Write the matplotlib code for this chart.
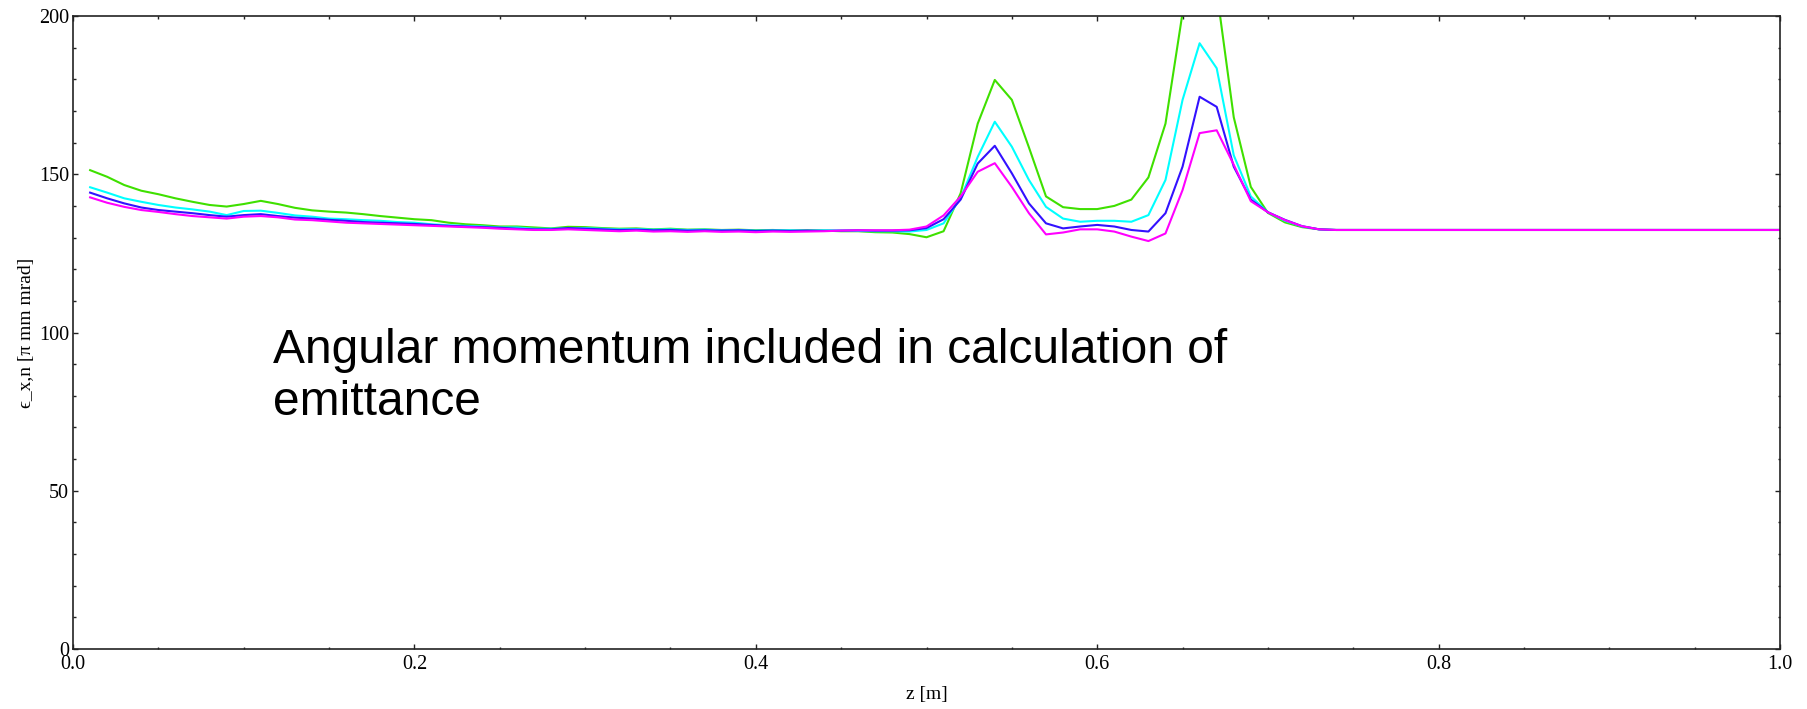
import matplotlib
matplotlib.use("Agg")
import matplotlib.pyplot as plt
from matplotlib.ticker import MultipleLocator

plt.rcParams["font.family"] = ["Liberation Serif", "DejaVu Serif"]

# longitudinal position [m]
z = [
    0.01, 0.02, 0.03, 0.04, 0.05, 0.06, 0.07, 0.08, 0.09, 0.10,
    0.11, 0.12, 0.13, 0.14, 0.15, 0.16, 0.17, 0.18, 0.19, 0.20,
    0.21, 0.22, 0.23, 0.24, 0.25, 0.26, 0.27, 0.28, 0.29, 0.30,
    0.31, 0.32, 0.33, 0.34, 0.35, 0.36, 0.37, 0.38, 0.39, 0.40,
    0.41, 0.42, 0.43, 0.44, 0.45, 0.46, 0.47, 0.48, 0.49, 0.50,
    0.51, 0.52, 0.53, 0.54, 0.55, 0.56, 0.57, 0.58, 0.59, 0.60,
    0.61, 0.62, 0.63, 0.64, 0.65, 0.66, 0.67, 0.68, 0.69, 0.70,
    0.71, 0.72, 0.73, 0.74, 0.80, 0.90, 1.00,
]

# normalized emittance for the four runs [pi mm mrad]
emit_green = [
    151.3, 149.2, 146.6, 144.8, 143.7, 142.4, 141.3, 140.3, 139.8, 140.6,
    141.6, 140.6, 139.4, 138.6, 138.2, 137.9, 137.4, 136.8, 136.3, 135.8,
    135.5, 134.7, 134.2, 133.9, 133.5, 133.5, 133.2, 132.9, 133.4, 133.3,
    133.0, 132.8, 132.9, 132.6, 132.8, 132.5, 132.6, 132.4, 132.5, 132.3,
    132.4, 132.2, 132.3, 132.2, 132.0, 132.0, 131.7, 131.6, 131.1, 130.1,
    132.0, 144.0, 166.0, 179.8, 173.5, 158.5, 143.0, 139.6, 139.0, 139.0,
    140.0, 142.0, 149.0, 166.0, 201.0, 212.0, 208.0, 168.0, 146.0, 137.8,
    134.8, 133.3, 132.6, 132.4, 132.4, 132.4, 132.4,
]
emit_cyan = [
    145.9, 144.2, 142.4, 141.3, 140.3, 139.5, 138.9, 138.2, 137.1, 138.4,
    138.5, 137.8, 137.0, 136.6, 136.0, 135.8, 135.5, 135.3, 134.9, 134.7,
    134.2, 133.9, 133.7, 133.5, 133.2, 133.2, 132.8, 132.8, 132.9, 133.0,
    132.8, 132.6, 132.7, 132.5, 132.6, 132.4, 132.5, 132.3, 132.4, 132.2,
    132.3, 132.3, 132.2, 132.3, 132.2, 132.1, 132.0, 132.0, 131.9, 132.4,
    134.5, 142.5, 155.5, 166.6, 158.7, 148.2, 139.7, 136.0, 135.0, 135.3,
    135.3, 135.0, 137.1, 148.2, 173.5, 191.4, 183.5, 156.0, 143.0, 138.0,
    135.3, 133.5, 132.6, 132.4, 132.4, 132.4, 132.4,
]
emit_blue = [
    144.2, 142.4, 140.8, 139.5, 138.7, 138.2, 137.7, 137.1, 136.6, 137.1,
    137.4, 136.8, 136.3, 136.0, 135.6, 135.3, 134.9, 134.7, 134.5, 134.3,
    134.0, 133.7, 133.5, 133.3, 133.1, 132.8, 132.6, 132.6, 133.0, 132.8,
    132.6, 132.4, 132.5, 132.3, 132.4, 132.2, 132.3, 132.2, 132.3, 132.1,
    132.2, 132.1, 132.2, 132.1, 132.2, 132.3, 132.2, 132.2, 132.3, 133.0,
    135.8, 142.0, 153.4, 159.0, 150.3, 140.8, 134.5, 132.9, 133.5, 134.0,
    133.5, 132.4, 131.9, 137.7, 152.4, 174.5, 171.3, 152.4, 142.0, 138.0,
    135.6, 133.6, 132.6, 132.4, 132.4, 132.4, 132.4,
]
emit_magenta = [
    142.7, 141.0, 139.7, 138.7, 138.1, 137.4, 136.8, 136.4, 136.0, 136.6,
    136.8, 136.4, 135.7, 135.5, 135.1, 134.7, 134.5, 134.3, 134.1, 133.9,
    133.7, 133.5, 133.3, 133.1, 132.8, 132.6, 132.4, 132.4, 132.6, 132.4,
    132.2, 132.0, 132.2, 131.9, 132.0, 131.8, 132.0, 131.8, 131.9, 131.7,
    131.9, 131.8, 131.9, 132.0, 132.2, 132.3, 132.3, 132.3, 132.5, 133.5,
    137.0, 143.0, 150.8, 153.5, 146.0, 137.7, 131.0, 131.6, 132.6, 132.6,
    131.9, 130.3, 128.9, 131.3, 145.0, 163.0, 163.9, 153.0, 141.5, 138.0,
    135.5, 133.6, 132.6, 132.4, 132.4, 132.4, 132.4,
]

series = [
    (emit_green, "#3fe000"),
    (emit_cyan, "#00ffff"),
    (emit_blue, "#3311ff"),
    (emit_magenta, "#ff00ff"),
]

fig = plt.figure(figsize=(18.08, 7.09), dpi=100)
ax = fig.add_axes([0.0404, 0.0846, 0.9441, 0.8928])

for values, color in series:
    ax.plot(z, values, color=color, linewidth=1.5)

ax.set_xlim(0.0, 1.0)
ax.set_ylim(0, 200)
ax.xaxis.set_major_locator(MultipleLocator(0.2))
ax.xaxis.set_minor_locator(MultipleLocator(0.05))
ax.yaxis.set_major_locator(MultipleLocator(50))
ax.yaxis.set_minor_locator(MultipleLocator(10))
ax.xaxis.set_major_formatter(lambda v, pos: f"{v:.1f}")
ax.yaxis.set_major_formatter(lambda v, pos: f"{v:.0f}")

ax.tick_params(which="both", direction="in", top=True, right=True,
               labeltop=False, labelright=False, width=1.0, color="#222222")
ax.tick_params(which="major", length=3.5, labelsize=14.5)
ax.tick_params(axis="x", which="major", pad=4)
ax.tick_params(axis="y", which="major", pad=3)
ax.tick_params(which="minor", length=1.8)
for spine in ax.spines.values():
    spine.set_linewidth(1.2)
    spine.set_color("#222222")

ax.set_xlabel("z [m]", fontsize=14)
ax.xaxis.set_label_coords(0.5, -0.058)
ax.set_ylabel("ϵ_x,n [π mm mrad]", fontsize=14)
ax.yaxis.set_label_coords(-0.022, 0.5)

# baseline of the last line sits at y = 74
ax.text(0.117, 74, "Angular momentum included in calculation of\nemittance",
        family="Liberation Sans", fontsize=34.5, color="black",
        ha="left", va="baseline")

fig.savefig("out.png", dpi=100, facecolor="white")
